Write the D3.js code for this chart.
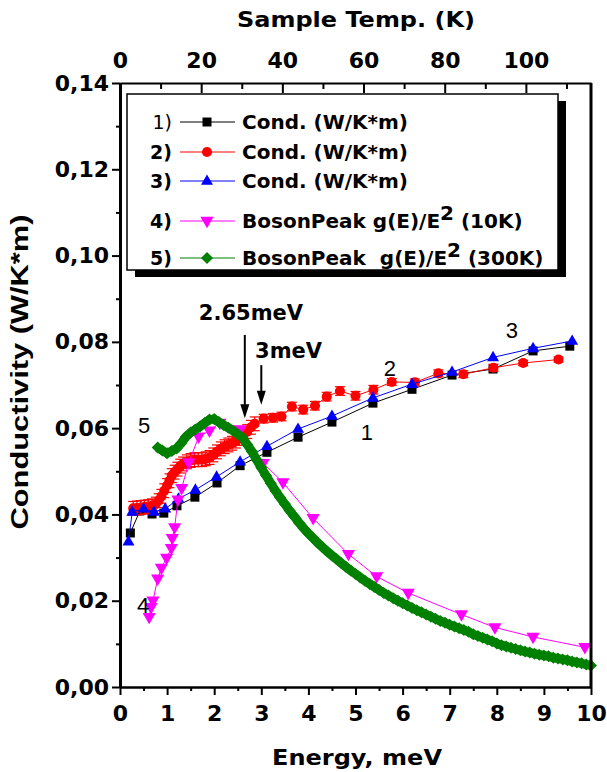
<!DOCTYPE html>
<html>
<head>
<meta charset="utf-8">
<script src="https://cdn.jsdelivr.net/npm/d3@7"></script>
<style>
  body { margin: 0; background: #fff; }
  svg text { font-family: "DejaVu Sans", sans-serif; font-weight: bold; fill: #000; white-space: pre; }
</style>
</head>
<body>
<svg id="chart" width="607" height="772"></svg>
<script>
// ---- data ----
// 1) Cond. (black squares)
var cond1E = [0.22, 0.42, 0.68, 0.93, 1.21, 1.59, 2.06, 2.55, 3.12, 3.78, 4.50, 5.37, 6.20, 7.05, 7.92, 8.77, 9.55];
var cond1C = [0.0357, 0.0408, 0.0401, 0.0403, 0.0420, 0.0440, 0.0473, 0.0513, 0.0544, 0.0579, 0.0614, 0.0658, 0.0690, 0.0723, 0.0737, 0.0779, 0.0790];

// 2) Cond. (red circles, with error bars)
var cond2E = [0.28, 0.36, 0.44, 0.52, 0.60, 0.68, 0.76, 0.82, 0.88, 0.94, 1.00, 1.05, 1.10, 1.16, 1.22, 1.28, 1.34, 1.42,
              1.50, 1.58, 1.66, 1.74, 1.82, 1.90, 1.98, 2.06, 2.14, 2.22, 2.30, 2.38, 2.46, 2.54, 2.62, 2.70, 2.78, 2.86,
              3.05, 3.25, 3.43, 3.65, 3.89, 4.14, 4.39, 4.67, 5.00, 5.38, 5.77, 6.26, 6.76, 7.29, 7.93, 8.56, 9.31];
var cond2C = [0.0414, 0.0415, 0.0416, 0.0417, 0.0418, 0.0420, 0.0424, 0.0432, 0.0442, 0.0455, 0.0467, 0.0478, 0.0490, 0.0498,
              0.0505, 0.0512, 0.0517, 0.0522, 0.0525, 0.0527, 0.0527, 0.0527, 0.0529, 0.0532, 0.0538, 0.0545, 0.0552, 0.0557,
              0.0561, 0.0565, 0.0570, 0.0576, 0.0583, 0.0592, 0.0602, 0.0610,
              0.0622, 0.0624, 0.0627, 0.0650, 0.0643, 0.0652, 0.0673, 0.0686, 0.0675, 0.0689, 0.0707, 0.0706, 0.0727,
              0.0725, 0.0740, 0.0751, 0.0759];
var cond2Err = [0.0016, 0.0016, 0.0016, 0.0016, 0.0016, 0.0016, 0.0016, 0.0016, 0.0016, 0.0016, 0.0016, 0.0016, 0.0016, 0.0016,
                0.0016, 0.0016, 0.0016, 0.0016, 0.0016, 0.0016, 0.0016, 0.0016, 0.0016, 0.0016, 0.0016, 0.0016, 0.0016, 0.0016,
                0.0016, 0.0016, 0.0016, 0.0016, 0.0016, 0.0016, 0.0016, 0.0016,
                0.0010, 0.0010, 0.0010, 0.0010, 0.0010, 0.0010, 0.0010, 0.0010, 0.0010, 0.0010, 0.0008, 0.0008, 0.0008,
                0.0008, 0.0008, 0.0006, 0.0006];

// 3) Cond. (blue triangles)
var cond3E = [0.18, 0.26, 0.50, 0.72, 0.96, 1.24, 1.60, 2.05, 2.55, 3.12, 3.78, 4.50, 5.37, 6.20, 7.05, 7.92, 8.77, 9.60];
var cond3C = [0.0337, 0.0406, 0.0413, 0.0406, 0.0413, 0.0436, 0.0457, 0.0487, 0.0522, 0.0558, 0.0598, 0.0628, 0.0670, 0.0702, 0.0730, 0.0764, 0.0785, 0.0802];

// 4) BosonPeak g(E)/E^2 (10K) (magenta down triangles)
var boson10E = [0.62, 0.66, 0.70, 0.80, 0.88, 0.99, 1.09, 1.11, 1.16, 1.23, 1.31, 1.46, 1.67, 1.90, 2.12, 2.55, 3.04, 3.46,
                4.10, 4.85, 5.45, 6.12, 7.25, 7.96, 8.77, 9.87];
var boson10C = [0.0162, 0.0185, 0.0200, 0.0251, 0.0276, 0.0299, 0.0322, 0.0345, 0.0370, 0.0434, 0.0461, 0.0520, 0.0580, 0.0594,
                0.0612, 0.0597, 0.0519, 0.0474, 0.0391, 0.0308, 0.0256, 0.0218, 0.0168, 0.0138, 0.0116, 0.0092];

// 5) BosonPeak g(E)/E^2 (300K) (green diamonds, dense)
var boson300E = [0.8, 0.9, 1.0, 1.1, 1.2, 1.3, 1.4, 1.5, 1.6, 1.7, 1.8, 1.9, 2.0, 2.1, 2.2, 2.3, 2.4, 2.5, 2.6, 2.7,
                 2.8, 2.9, 3.0, 3.1, 3.2, 3.3, 3.4, 3.5, 3.6, 3.7, 3.8, 3.9, 4.0, 4.1, 4.2, 4.3, 4.4, 4.5, 4.6, 4.7,
                 4.8, 4.9, 5.0, 5.1, 5.2, 5.3, 5.4, 5.5, 5.6, 5.7, 5.8, 5.9, 6.0, 6.1, 6.2, 6.3, 6.4, 6.5, 6.6, 6.7,
                 6.8, 6.9, 7.0, 7.1, 7.2, 7.3, 7.4, 7.5, 7.6, 7.7, 7.8, 7.9, 8.0, 8.1, 8.2, 8.3, 8.4, 8.5, 8.6, 8.7,
                 8.8, 8.9, 9.0, 9.1, 9.2, 9.3, 9.4, 9.5, 9.6, 9.7, 9.8, 9.9, 10.0];
var boson300C = [0.0555, 0.0548, 0.0542, 0.0547, 0.0553, 0.0565, 0.0580, 0.0590, 0.0597, 0.0604, 0.0612, 0.0620, 0.0621, 0.0614,
                 0.0607, 0.0601, 0.0594, 0.0586, 0.0578, 0.0562, 0.0546, 0.0527, 0.0508, 0.0490, 0.0472, 0.0455, 0.0439, 0.0424,
                 0.0409, 0.0395, 0.0381, 0.0368, 0.0356, 0.0345, 0.0334, 0.0324, 0.0314, 0.0305, 0.0296, 0.0287, 0.0278, 0.0270,
                 0.0262, 0.0254, 0.0246, 0.0239, 0.0232, 0.0225, 0.0218, 0.0212, 0.0206, 0.0200, 0.0194, 0.0189, 0.0183, 0.0178,
                 0.0173, 0.0168, 0.0163, 0.0158, 0.0153, 0.0149, 0.0144, 0.0140, 0.0136, 0.0132, 0.0128, 0.0122, 0.0118, 0.0114,
                 0.0110, 0.0106, 0.0101, 0.0097, 0.0094, 0.0091, 0.0088, 0.0085, 0.0082, 0.0080, 0.0077, 0.0075, 0.0073, 0.0071,
                 0.0068, 0.0066, 0.0064, 0.0062, 0.0059, 0.0057, 0.0055, 0.0052, 0.0050];

// axes ticks
var xTicks = [0, 1, 2, 3, 4, 5, 6, 7, 8, 9, 10];
var xMinor = [0.5, 1.5, 2.5, 3.5, 4.5, 5.5, 6.5, 7.5, 8.5, 9.5];
var yTicks = [0, 0.02, 0.04, 0.06, 0.08, 0.10, 0.12, 0.14];
var yMinor = [0.01, 0.03, 0.05, 0.07, 0.09, 0.11, 0.13];
var tTicks = [0, 20, 40, 60, 80, 100];
var tMinor = [10, 30, 50, 70, 90, 110];
var kelvinPerMeV = 11.6045;

var legendNames = ["Cond. (W/K*m)", "Cond. (W/K*m)", "Cond. (W/K*m)", "BosonPeak g(E)/E", "BosonPeak  g(E)/E"];
var legendSup = ["", "", "", "2", "2"];
var legendTail = ["", "", "", " (10K)", " (300K)"];

// ---- layout ----
var svg = d3.select("#chart"),
    margin = {top: 83, right: 16, bottom: 85, left: 120},
    width = +svg.attr("width") - margin.left - margin.right,
    height = +svg.attr("height") - margin.top - margin.bottom,
    g = svg.append("g").attr("transform", "translate(" + margin.left + "," + margin.top + ")");

var x = d3.scaleLinear().domain([0, 10]).range([0, width]),
    y = d3.scaleLinear().domain([0, 0.14]).range([height, 0]),
    xTop = d3.scaleLinear().domain([0, 10 * kelvinPerMeV]).range([0, width]);

var comma = function(d) { return d3.format(".2f")(d).replace(".", ","); };

// marker shapes centred on 0,0
var shapes = {
  square: "M-4.5,-4.5h9v9h-9Z",
  circle: d3.symbol(d3.symbolCircle, 80)(),
  up: "M0,-6.6L6,3.8L-6,3.8Z",
  down: "M0,7.2L6.6,-4.2L-6.6,-4.2Z",
  diamond: "M0,-6L6,0L0,6L-6,0Z"
};

function pts(es, cs) { return es.map(function(e, i) { return [e, cs[i]]; }); }

// band = width of the dense marker trail (the 300K curve is a solid band of diamonds)
var series = [
  {data: pts(cond1E, cond1C), color: "#000000", shape: "square", band: 1},
  {data: pts(cond2E, cond2C), color: "#ff0000", shape: "circle", band: 1, err: cond2Err},
  {data: pts(cond3E, cond3C), color: "#0000ff", shape: "up", band: 1},
  {data: pts(boson10E, boson10C), color: "#ff00ff", shape: "down", band: 1},
  {data: pts(boson300E, boson300C), color: "#008000", shape: "diamond", band: 9}
];

var line = d3.line().x(function(d) { return x(d[0]); }).y(function(d) { return y(d[1]); });

series.forEach(function(s) {
  var sg = g.append("g");
  sg.append("path").datum(s.data)
    .attr("d", line).attr("fill", "none").attr("stroke", s.color).attr("stroke-width", s.band);

  if (s.err) {
    var eb = sg.selectAll(".err").data(s.data).enter().append("g").attr("stroke", s.color).attr("stroke-width", 1.2);
    eb.append("line")
      .attr("x1", function(d) { return x(d[0]); }).attr("x2", function(d) { return x(d[0]); })
      .attr("y1", function(d, i) { return y(d[1] - s.err[i]); }).attr("y2", function(d, i) { return y(d[1] + s.err[i]); });
    eb.append("line")
      .attr("x1", function(d) { return x(d[0]) - 5; }).attr("x2", function(d) { return x(d[0]) + 5; })
      .attr("y1", function(d, i) { return y(d[1] + s.err[i]); }).attr("y2", function(d, i) { return y(d[1] + s.err[i]); });
    eb.append("line")
      .attr("x1", function(d) { return x(d[0]) - 5; }).attr("x2", function(d) { return x(d[0]) + 5; })
      .attr("y1", function(d, i) { return y(d[1] - s.err[i]); }).attr("y2", function(d, i) { return y(d[1] - s.err[i]); });
  }

  sg.selectAll(".mk").data(s.data).enter().append("path")
    .attr("d", shapes[s.shape])
    .attr("transform", function(d) { return "translate(" + x(d[0]) + "," + y(d[1]) + ")"; })
    .attr("fill", s.color);
});

// ---- axes ----
function styleAxis(sel, w) {
  sel.attr("font-size", null).attr("font-family", null);
  sel.select(".domain").attr("stroke-width", w);
  sel.selectAll(".tick line").attr("stroke-width", 2);
  sel.selectAll(".tick text").style("font-size", "22px");
}

g.append("g").attr("transform", "translate(0," + height + ")")
  .call(d3.axisBottom(x).tickValues(xTicks).tickSize(8).tickSizeOuter(0).tickPadding(10))
  .call(styleAxis, 2.5);
g.append("g").attr("transform", "translate(0," + height + ")")
  .call(d3.axisBottom(x).tickValues(xMinor).tickSize(4).tickFormat(""))
  .call(styleAxis, 0);

g.append("g")
  .call(d3.axisLeft(y).tickValues(yTicks).tickSize(8).tickSizeOuter(0).tickPadding(3).tickFormat(comma))
  .call(styleAxis, 3);
g.append("g")
  .call(d3.axisLeft(y).tickValues(yMinor).tickSize(4).tickFormat(""))
  .call(styleAxis, 0);

g.append("g")
  .call(d3.axisTop(xTop).tickValues(tTicks).tickSize(-10).tickSizeOuter(0).tickPadding(15))
  .call(styleAxis, 2);
g.append("g")
  .call(d3.axisTop(xTop).tickValues(tMinor).tickSize(-6).tickFormat(""))
  .call(styleAxis, 0);

g.append("line").attr("x1", width).attr("x2", width).attr("y1", 0).attr("y2", height)
  .attr("stroke", "#000").attr("stroke-width", 3);

// axis titles
svg.append("text").attr("x", 356).attr("y", 27).attr("text-anchor", "middle")
  .attr("textLength", 238).attr("lengthAdjust", "spacingAndGlyphs")
  .style("font-size", "22px").text("Sample Temp. (K)");
svg.append("text").attr("x", 357).attr("y", 765).attr("text-anchor", "middle")
  .attr("textLength", 170).attr("lengthAdjust", "spacingAndGlyphs")
  .style("font-size", "22px").text("Energy, meV");
svg.append("text").attr("transform", "translate(28,372) rotate(-90)").attr("text-anchor", "middle")
  .attr("textLength", 315).attr("lengthAdjust", "spacingAndGlyphs")
  .style("font-family", "'Liberation Sans', Arial, sans-serif").style("font-size", "24px")
  .text("Conductivity (W/K*m)");

// ---- arrows and curve numbers ----
function arrow(e, c0, c1) {
  var ax = x(e), ya = y(c0), yb = y(c1);
  g.append("line").attr("x1", ax).attr("x2", ax).attr("y1", ya).attr("y2", yb - 12)
    .attr("stroke", "#000").attr("stroke-width", 2);
  g.append("path").attr("d", "M" + (ax - 4.5) + "," + (yb - 14) + "L" + (ax + 4.5) + "," + (yb - 14) + "L" + ax + "," + yb + "Z")
    .attr("fill", "#000");
}
arrow(2.65, 0.0816, 0.0623);
arrow(3.0, 0.0746, 0.0654);
g.append("text").attr("x", x(2.78)).attr("y", y(0.0850)).attr("text-anchor", "middle")
  .style("font-size", "21px").text("2.65meV");
g.append("text").attr("x", x(3.58)).attr("y", y(0.0762)).attr("text-anchor", "middle")
  .style("font-size", "21px").text("3meV");

var curveNums = [["1", 5.24, 0.0591], ["2", 5.73, 0.0739], ["3", 8.32, 0.0827], ["4", 0.49, 0.0190], ["5", 0.51, 0.0607]];
g.selectAll(".num").data(curveNums).enter().append("text")
  .attr("x", function(d) { return x(d[1]); })
  .attr("y", function(d) { return y(d[2]) + 8; })
  .attr("text-anchor", "middle")
  .style("font-family", "'Liberation Sans', Arial, sans-serif").style("font-weight", "normal").style("font-size", "22px")
  .text(function(d) { return d[0]; });

// ---- legend ----
var legend = svg.append("g");
legend.append("rect").attr("x", 135).attr("y", 101).attr("width", 431).attr("height", 176).attr("fill", "#000");
legend.append("rect").attr("x", 127).attr("y", 94).attr("width", 431).attr("height", 176)
  .attr("fill", "#fff").attr("stroke", "#000").attr("stroke-width", 1.5);

var rowY = [122, 152, 181, 221, 258];
var item = legend.selectAll(".item").data(series).enter().append("g")
  .attr("transform", function(d, i) { return "translate(0," + rowY[i] + ")"; });
item.append("text").attr("x", 172).attr("y", 7).attr("text-anchor", "end")
  .style("font-size", "19px").style("font-weight", function(d, i) { return i === 0 ? "normal" : "bold"; })
  .text(function(d, i) { return (i + 1) + ")"; });
item.append("line").attr("x1", 180).attr("x2", 235).attr("stroke", function(d) { return d.color; }).attr("stroke-width", 1);
item.append("path").attr("d", function(d) { return shapes[d.shape]; })
  .attr("transform", "translate(207,0)").attr("fill", function(d) { return d.color; });
var lt = item.append("text").attr("x", 242).attr("y", 7).style("font-size", "20px");
lt.append("tspan").text(function(d, i) { return legendNames[i]; });
lt.append("tspan").attr("dy", -8).text(function(d, i) { return legendSup[i]; });
lt.append("tspan").attr("dy", 8).text(function(d, i) { return legendTail[i]; });
</script>
</body>
</html>
